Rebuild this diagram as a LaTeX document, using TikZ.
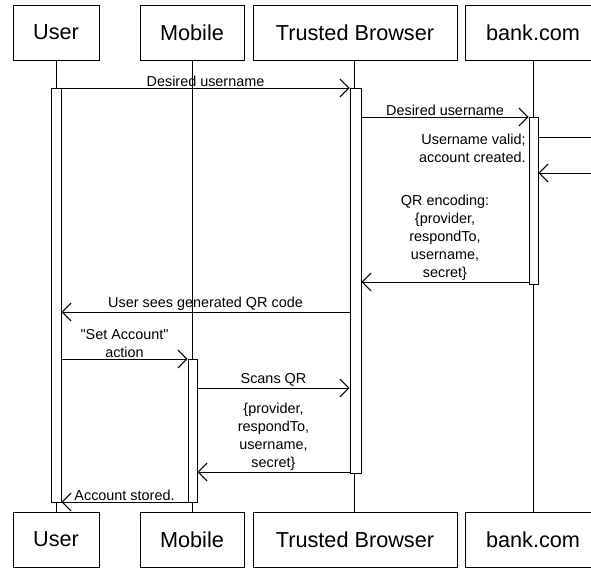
\documentclass[tikz,border=0pt]{standalone}
\usepackage{fontspec}
\setmainfont{Liberation Sans}
\usetikzlibrary{arrows.meta,fit}
\begin{document}
\begin{tikzpicture}[x=0.03cm,y=-0.03cm,
        box/.style={draw,line width=0.8pt,minimum height=1.65cm,inner sep=0pt,
          font=\fontsize{18.5}{22}\selectfont},
        act/.style={draw,fill=white,line width=0.8pt,inner sep=0pt},
        life/.style={line width=0.8pt},
        msg/.style={line width=0.8pt,-{Straight Barb[length=0.27cm,width=0.54cm]}},
        lbl/.style={font=\fontsize{12.3}{15.3}\selectfont,inner sep=1pt,align=center}]
      \useasboundingbox (0,0) rectangle (591,569);
      \path
        (56,32.5) node[box,minimum width=2.58cm] (user){User}
        (192,32.5) node[box,minimum width=3.12cm] (mobile){Mobile}
        (355,32.5) node[box,minimum width=6.12cm] (browser){Trusted Browser}
        (533,32.5) node[box,minimum width=4.08cm] (bank){bank.com}
        (56,539.5) node[box,minimum width=2.58cm] (userB){User}
        (192,539.5) node[box,minimum width=3.12cm] (mobileB){Mobile}
        (355,539.5) node[box,minimum width=6.12cm] (browserB){Trusted Browser}
        (533,539.5) node[box,minimum width=4.08cm] (bankB){bank.com};
      \begin{scope}[life]
        \draw (user.south) to (userB.north);
        \draw (mobile.south) to (mobileB.north);
        \draw (browser.south -| 354,0) to (browserB.north -| 354,0);
        \draw (bank.south) to (bankB.north);
      \end{scope}
      \node[act,fit={(51,88) (61,502)}] (actUser){};
      \node[act,fit={(188,359) (197,502)}] (actMobile){};
      \node[act,fit={(350,88) (361,473)}] (actBrowser){};
      \node[act,fit={(529,117) (538,284)}] (actBank){};
      \coordinate (r1) at (0,88);
      \coordinate (r2) at (0,117);
      \coordinate (r3) at (0,137);
      \coordinate (r4) at (0,173);
      \coordinate (r5) at (0,282);
      \coordinate (r6) at (0,312);
      \coordinate (r7) at (0,359);
      \coordinate (r8) at (0,388);
      \coordinate (r9) at (0,472);
      \coordinate (r10) at (0,502);
      \begin{scope}[msg]
        \draw (actUser.east |- r1) to node[lbl,above] (l1){Desired username} (actBrowser.west |- r1);
        \draw (actBrowser.east |- r2) to node[lbl,above] (l2){Desired username} (actBank.west |- r2);
        \draw (actBank.east |- r3) -- ++(80,0) |- (actBank.east |- r4);
        \draw (actBank.west |- r5) to node[lbl,above] (l4){QR encoding:\\\{provider,\\respondTo,\\username,\\secret\}} (actBrowser.east |- r5);
        \draw (actBrowser.west |- r6) to node[lbl,above] (l5){User sees generated QR code} (actUser.east |- r6);
        \draw (actUser.east |- r7) to node[lbl,above] (l6){\textquotedbl Set Account\textquotedbl\\action} (actMobile.west |- r7);
        \draw (actMobile.east |- r8) to node[lbl,above] (l7){Scans QR} (actBrowser.west |- r8);
        \draw (actBrowser.west |- r9) to node[lbl,above] (l8){\{provider,\\respondTo,\\username,\\secret\}} (actMobile.east |- r9);
        \draw (actMobile.west |- r10) to node[lbl,above] (l9){Account stored.} (actUser.east |- r10);
      \end{scope}
      \node[lbl,align=right,anchor=east] (l3) at (527,148.5) {Username valid;\\account created.};
    \end{tikzpicture}
\end{document}
